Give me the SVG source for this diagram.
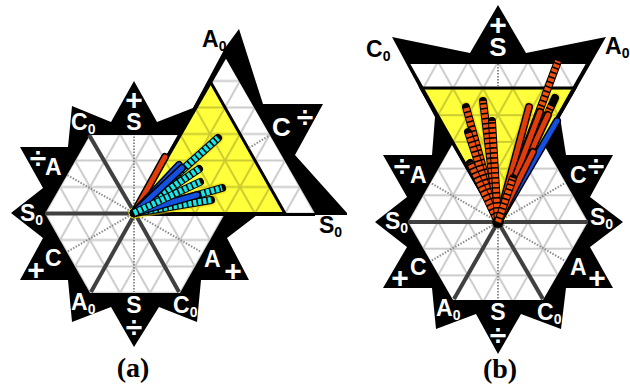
<svg xmlns="http://www.w3.org/2000/svg" width="630" height="387" viewBox="0 0 630 387">
<style>
.blk{fill:#000}
.wht{fill:#fff}
.yel{fill:#ffff3c;stroke:#000;stroke-width:3;stroke-linejoin:miter}
.thick{stroke:#404040;stroke-width:4;fill:none}
.dot{stroke:#8c8c8c;stroke-width:2;stroke-dasharray:1.5 1.5;fill:none}
.glow line{stroke:#e6cf00;stroke-width:11;stroke-linecap:round;opacity:.55}
.o{stroke:#000;stroke-width:8;stroke-linecap:round}
.r{stroke:#e03c0c;stroke-width:5;stroke-linecap:round}
.b{stroke:#1450e0;stroke-width:5;stroke-linecap:round}
.c{stroke:#19e6e6;stroke-width:6;stroke-dasharray:3.4 1.6}
.d{stroke:#f0500f;stroke-width:6;stroke-dasharray:3.4 1.6}
text{font-family:"Liberation Sans",Arial,sans-serif;font-weight:700;font-size:23px}
.w{fill:#fff}
.k{fill:#000}
.big{font-size:26px}
.sym{font-size:30px;text-anchor:middle;fill:#fff}
.mid{text-anchor:middle}
.sub{font-size:14px}
.cap{font-family:"Liberation Serif","Times New Roman",serif;font-size:28px;text-anchor:middle;fill:#000}
</style>
<defs>
<pattern id="gridA" patternUnits="userSpaceOnUse" width="30" height="53" patternTransform="translate(135 213.5)">
<path d="M0 0H30M0 26.5H30M0 53H30M0 0L15 26.5L30 0M0 53L15 26.5L30 53" fill="none" stroke="#000" stroke-opacity=".2" stroke-width="2"/>
</pattern>
<pattern id="gridB" patternUnits="userSpaceOnUse" width="30" height="53.4" patternTransform="translate(498 222)">
<path d="M0 0H30M0 26.7H30M0 53.4H30M0 0L15 26.7L30 0M0 53.4L15 26.7L30 53.4" fill="none" stroke="#000" stroke-opacity=".2" stroke-width="2"/>
</pattern>
</defs>

<g id="plot-a">
<polygon class="blk" points="134,81 157,122 193,108 225,48 239,29 263,104 323,104 295,155 347,213 347,215 257,215 227,238 249,280 201,280 197,322 159,307 134,347 111,307 72,322 68,280 20,280 43,238 11,213 43,188 20,147 68,147 72,106 111,122"/>
<polygon class="wht" points="225,57 315,213.5 225,213.5 180,293 90,293 45,213.5 90,135 180,135"/>
<polygon class="yel" points="135,213.5 285,213.5 210,81"/>
<polygon fill="url(#gridA)" points="225,57 315,213.5 225,213.5 180,293 90,293 45,213.5 90,135 180,135"/>
<g class="lines">
<line class="dot" x1="134" y1="213" x2="134" y2="136"/>
<line class="dot" x1="134" y1="213" x2="134" y2="292"/>
<line class="dot" x1="134" y1="213" x2="67" y2="175"/>
<line class="dot" x1="134" y1="213" x2="67" y2="252"/>
<line class="dot" x1="134" y1="213" x2="201" y2="252"/>
<line class="dot" x1="249" y1="148" x2="270" y2="135"/>
<line class="thick" x1="135" y1="213.5" x2="89" y2="135"/>
<line class="thick" x1="135" y1="213.5" x2="91" y2="292"/>
<line class="thick" x1="135" y1="213.5" x2="179" y2="292"/>
<line class="thick" x1="135" y1="213.5" x2="45" y2="213.5"/>
<line x1="135" y1="214.5" x2="315" y2="214.5" stroke="#000" stroke-width="3"/>
<line x1="135" y1="213.5" x2="225" y2="57" stroke="#000" stroke-width="3.5"/>
</g>
<g class="glow">
<line x1="134" y1="213" x2="218" y2="138"/>
<line x1="134" y1="213" x2="222" y2="188"/>
<line x1="134" y1="213" x2="211" y2="200"/>
</g>
<g id="bars-a">
<line class="o" x1="134" y1="213" x2="165" y2="157"/><line class="r" x1="134" y1="213" x2="165" y2="157"/>
<line class="o" x1="134" y1="213" x2="218" y2="138"/><line class="c" x1="134" y1="213" x2="218" y2="138"/>
<line class="o" x1="134" y1="213" x2="199" y2="169"/><line class="c" x1="134" y1="213" x2="199" y2="169"/>
<line class="o" x1="134" y1="213" x2="179" y2="165"/><line class="b" x1="134" y1="213" x2="179" y2="165"/>
<line class="o" x1="134" y1="213" x2="182" y2="168"/><line class="b" x1="134" y1="213" x2="182" y2="168"/>
<line class="o" x1="134" y1="213" x2="222" y2="188"/><line class="c" x1="134" y1="213" x2="222" y2="188"/>
<line class="o" x1="134" y1="213" x2="211" y2="200"/><line class="c" x1="134" y1="213" x2="211" y2="200"/>
<line class="o" x1="134" y1="213" x2="197" y2="195"/><line class="b" x1="134" y1="213" x2="197" y2="195"/>
<line class="o" x1="134" y1="213" x2="200" y2="182"/><line class="c" x1="134" y1="213" x2="200" y2="182"/>
</g>
<text class="k" x="202" y="47">A<tspan class="sub" dy="4">0</tspan></text>
<text class="w" x="71" y="130">C<tspan class="sub" dy="4">0</tspan></text>
<text class="sym" x="134" y="110">+</text>
<text class="w mid" x="134" y="130">S</text>
<text class="sym" x="38" y="168">÷</text>
<text class="w" x="45" y="175">A</text>
<text class="w" x="20" y="221">S<tspan class="sub" dy="4">0</tspan></text>
<text class="w big" x="272" y="136">C</text>
<text class="sym" x="305" y="127">÷</text>
<text class="k" x="319" y="233">S<tspan class="sub" dy="4">0</tspan></text>
<text class="w" x="45" y="266">C</text>
<text class="sym" x="36" y="280">+</text>
<text class="w" x="71" y="310">A<tspan class="sub" dy="4">0</tspan></text>
<text class="w mid" x="134" y="313">S</text>
<text class="sym" x="134" y="337">÷</text>
<text class="w" x="173" y="313">C<tspan class="sub" dy="4">0</tspan></text>
<text class="w" x="204" y="267">A</text>
<text class="sym" x="233" y="281">+</text>
<text class="cap" x="133" y="377">(a)</text>
</g>

<g id="plot-b">
<polygon class="blk" points="498,5 526,53 606,37 560,117 566,155 613,155 590,197 623,222 590,247 613,288 566,288 561,329 521,314 498,354 476,314 436,329 432,288 383,288 407,247 375,222 407,197 383,155 432,155 435,117 392,37 470,53"/>
<polygon class="wht" points="408,63 588,63 543,143 588,222 543,300 453,300 408,222 453,143"/>
<polygon class="yel" points="421,88 575,88 498,222"/>
<polygon fill="url(#gridB)" points="408,63 588,63 543,143 588,222 543,300 453,300 408,222 453,143"/>
<g class="lines">
<line class="dot" x1="498" y1="64" x2="498" y2="87"/>
<line class="dot" x1="498" y1="222" x2="498" y2="300"/>
<line class="dot" x1="498" y1="222" x2="431" y2="183"/>
<line class="dot" x1="498" y1="222" x2="565" y2="183"/>
<line class="dot" x1="498" y1="222" x2="431" y2="261"/>
<line class="dot" x1="498" y1="222" x2="565" y2="261"/>
<line class="thick" x1="498" y1="222" x2="408" y2="222"/>
<line class="thick" x1="498" y1="222" x2="588" y2="222"/>
<line class="thick" x1="498" y1="222" x2="454" y2="299"/>
<line class="thick" x1="498" y1="222" x2="543" y2="299"/>
<line x1="498" y1="222" x2="408" y2="63" stroke="#000" stroke-width="3"/>
<line x1="498" y1="222" x2="588" y2="63" stroke="#000" stroke-width="3"/>
<line x1="408" y1="63" x2="588" y2="63" stroke="#000" stroke-width="2"/>
</g>
<g class="glow">
<line x1="498" y1="222" x2="466" y2="107"/>
<line x1="498" y1="222" x2="483" y2="101"/>
<line x1="498" y1="222" x2="529" y2="107"/>
<line x1="498" y1="222" x2="555" y2="98"/>
</g>
<g id="bars-b">
<circle cx="498" cy="222" r="6" fill="#000"/>
<line class="o" x1="498" y1="222" x2="558" y2="61"/><line class="d" x1="498" y1="222" x2="558" y2="61"/>
<line class="o" x1="498" y1="222" x2="555" y2="98"/><line class="d" x1="498" y1="222" x2="551" y2="106"/>
<line class="o" x1="498" y1="222" x2="557" y2="121"/><line class="b" x1="498" y1="222" x2="557" y2="121"/>
<line class="o" x1="498" y1="222" x2="529" y2="107"/><line class="r" x1="498" y1="222" x2="529" y2="107"/>
<line class="o" x1="498" y1="222" x2="548" y2="115"/><line class="r" x1="498" y1="222" x2="548" y2="115"/>
<line class="o" x1="498" y1="222" x2="540" y2="112"/><line class="r" x1="498" y1="222" x2="540" y2="112"/>
<line class="o" x1="498" y1="222" x2="533" y2="152"/><line class="r" x1="498" y1="222" x2="533" y2="152"/>
<line class="o" x1="498" y1="222" x2="466" y2="107"/><line class="d" x1="498" y1="222" x2="466" y2="107"/>
<line class="o" x1="498" y1="222" x2="483" y2="101"/><line class="d" x1="498" y1="222" x2="483" y2="101"/>
<line class="o" x1="498" y1="222" x2="468" y2="132"/><line class="d" x1="498" y1="222" x2="468" y2="132"/>
<line class="o" x1="498" y1="222" x2="470" y2="163"/><line class="d" x1="498" y1="222" x2="470" y2="163"/>
<line class="o" x1="498" y1="222" x2="492" y2="121"/><line class="d" x1="498" y1="222" x2="492" y2="121"/>
<line class="o" x1="498" y1="222" x2="513" y2="178"/><line class="d" x1="498" y1="222" x2="513" y2="178"/>
</g>
<text class="sym" x="498" y="35">+</text>
<text class="w mid big" x="498" y="56">S</text>
<text class="k" x="366" y="57">C<tspan class="sub" dy="4">0</tspan></text>
<text class="k" x="605" y="54">A<tspan class="sub" dy="4">0</tspan></text>
<text class="sym" x="402" y="176">÷</text>
<text class="w" x="410" y="183">A</text>
<text class="sym" x="596" y="176">÷</text>
<text class="w" x="570" y="183">C</text>
<text class="w" x="385" y="229">S<tspan class="sub" dy="4">0</tspan></text>
<text class="w" x="590" y="225">S<tspan class="sub" dy="4">0</tspan></text>
<text class="w" x="410" y="275">C</text>
<text class="sym" x="400" y="288">+</text>
<text class="w" x="436" y="316">A<tspan class="sub" dy="4">0</tspan></text>
<text class="w mid" x="498" y="320">S</text>
<text class="sym" x="498" y="345">÷</text>
<text class="w" x="537" y="320">C<tspan class="sub" dy="4">0</tspan></text>
<text class="w" x="570" y="275">A</text>
<text class="sym" x="597" y="288">+</text>
<text class="cap" x="500" y="378">(b)</text>
</g>
</svg>
